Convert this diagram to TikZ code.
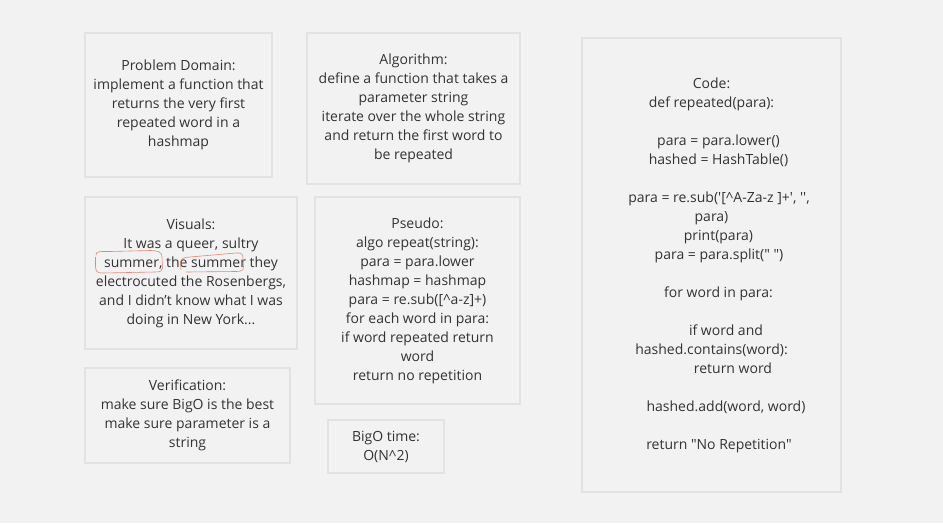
\documentclass[tikz,border=0pt]{standalone}
\usepackage{fontspec}
\newfontfamily\osans{Open Sans}
\definecolor{bgcol}{HTML}{F2F2F2}
\definecolor{boxline}{HTML}{E2E2E2}
\definecolor{txt}{HTML}{333333}
\definecolor{ink}{HTML}{E8857A}
\tikzset{
  card/.style={draw=boxline, line width=1.6pt, fill=bgcol, align=center,
    inner sep=0pt, font=\osans\fontsize{14}{19}\selectfont, text=txt},
  scribble/.style={draw=ink, line width=0.6pt, line join=round}
}
\begin{document}
\begin{tikzpicture}[x=1pt,y=-1pt]
\fill[bgcol] (0,0) rectangle (943,523);
\useasboundingbox (0,0) rectangle (943,523);

\node[card, minimum width=187, minimum height=144] (prob) at (178.5,105)
  {Problem Domain:\\implement a function that\\returns the very first\\repeated word in a\\hashmap};

\node[card, minimum width=213, minimum height=151] (algo) at (413.5,108.5)
  {Algorithm:\\define a function that takes a\\parameter string\\iterate over the whole string\\and return the first word to\\be repeated};

\node[card, minimum width=212, minimum height=152] (vis) at (191,273)
  {Visuals:\\It was a queer, sultry\\summer, the summer they\\electrocuted the Rosenbergs,\\and I didn’t know what I was\\doing in New York...};

\node[card, minimum width=205, minimum height=207] (pseudo) at (417.5,300.5)
  {Pseudo:\\algo repeat(string):\\para = para.lower\\hashmap = hashmap\\para = re.sub([\textasciicircum a-z]+)\\for each word in para:\\if word repeated return\\word\\return no repetition};

\node[card, minimum width=205, minimum height=95] (verif) at (187.5,415.5)
  {Verification:\\make sure BigO is the best\\make sure parameter is a\\string};

\node[card, minimum width=116, minimum height=53] (bigo) at (386,446.5)
  {BigO time:\\O(N\textasciicircum 2)};

\node[card, minimum width=259, minimum height=454] (code) at (711.5,265)
  {Code:\\
   def repeated(para):\\
   \mbox{}\\
   \hspace*{14pt}para = para.lower()\\
   \hspace*{14pt}hashed = HashTable()\\
   \mbox{}\\
   \hspace*{15pt}para = re.sub('[\textasciicircum A-Za-z ]+', '',\\
   para)\\
   \hspace*{14pt}print(para)\\
   \hspace*{15pt}para = para.split(" ")\\
   \mbox{}\\
   \hspace*{14pt}for word in para:\\
   \mbox{}\\
   \hspace*{29pt}if word and\\
   hashed.contains(word):\\
   \hspace*{43pt}return word\\
   \mbox{}\\
   \hspace*{29pt}hashed.add(word, word)\\
   \mbox{}\\
   \hspace*{15pt}return "No Repetition"};

% hand-drawn marks around "summer," and "summer"
\draw[scribble] (96,255) .. controls (96,251) and (100,251.5) .. (110,251.5)
  -- (150,250.5) .. controls (158,250.5) and (162,252) .. (162,257)
  -- (162.5,268) .. controls (162.5,271) and (160,272) .. (155,272)
  -- (102,273) .. controls (97,273) and (95.5,271) .. (95.5,266) -- (95.5,257);
\draw[scribble] (181,270) -- (180.5,263) .. controls (180.5,258) and (184,257.5) .. (190,257)
  -- (236,253) .. controls (241,252.5) and (243,254) .. (243,258)
  -- (243.5,267) .. controls (243.5,270.5) and (241,271.5) .. (236,271.5)
  -- (186,272);
\end{tikzpicture}
\end{document}
